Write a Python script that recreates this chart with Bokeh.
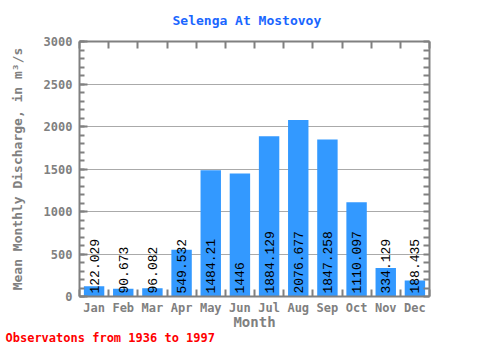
import math
from bokeh.plotting import figure
from bokeh.models import Range1d, FixedTicker, SingleIntervalTicker, LinearAxis, Title, ColumnDataSource
from bokeh.core.properties import value
from bokeh.embed import file_html
from bokeh.resources import INLINE

months = ["Jan", "Feb", "Mar", "Apr", "May", "Jun", "Jul", "Aug", "Sep", "Oct", "Nov", "Dec"]
discharge = [122.029, 90.673, 96.082, 549.532, 1484.21, 1446, 1884.129, 2076.677, 1847.258, 1110.097, 334.129, 188.435]
y_max = 3000
y_ticks_major = 500
y_ticks_minor = 100
title_text = "Selenga At Mostovoy"
note_text = "Observatons from 1936 to 1997"

xs = list(range(1, len(months) + 1))
labels = [("%f" % v).rstrip("0").rstrip(".") for v in discharge]
src = ColumnDataSource(dict(x=xs, y=discharge, lab=labels))

GRAY = "#808080"
MONO = "DejaVu Sans Mono"

p = figure(width=464, height=344, output_backend="svg", toolbar_location=None,
           x_range=Range1d(0.5, 12.5), y_range=Range1d(0, y_max),
           min_border_left=79, min_border_right=35, min_border_top=41, min_border_bottom=30)
p.outline_line_color = None
p.background_fill_color = "white"
p.border_fill_color = "white"

p.title.text = title_text
p.title.align = "left"
p.title.offset = 93
p.title.vertical_align = "top"
p.title.standoff = 24
p.title.text_font = MONO
p.title.text_font_size = "13px"
p.title.text_font_style = "bold"
p.title.text_color = "#1a66ff"

p.vbar(x="x", top="y", width=0.7, bottom=0, source=src, fill_color="#3399ff", line_color=None)
p.text(x="x", y=0, text="lab", source=src, angle=math.pi / 2, text_align="left",
       text_baseline="middle", y_offset=-3, text_font=value("Liberation Mono"),
       text_font_size="13px", text_color="black")

bound = [i + 0.5 for i in range(0, 13)]
xa = p.xaxis[0]
xa.ticker = FixedTicker(ticks=xs, minor_ticks=bound)
xa.major_label_overrides = {i: m for i, m in zip(xs, months)}
xa.major_tick_in = 0
xa.major_tick_out = 0
xa.minor_tick_in = 7
xa.minor_tick_out = 0
xa.axis_line_width = 2
xa.axis_line_color = GRAY
xa.minor_tick_line_color = GRAY
xa.minor_tick_line_width = 2
xa.major_label_text_font = MONO
xa.major_label_text_font_style = "bold"
xa.major_label_text_font_size = "12px"
xa.major_label_text_color = GRAY
xa.major_label_standoff = 4
xa.axis_label = "Month"
xa.axis_label_text_font = MONO
xa.axis_label_text_font_style = "bold"
xa.axis_label_text_font_size = "14px"
xa.axis_label_text_color = GRAY
xa.axis_label_standoff = -4

ya = p.yaxis[0]
ya.ticker = SingleIntervalTicker(interval=y_ticks_major, num_minor_ticks=5)
ya.major_tick_in = 8
ya.major_tick_out = 0
ya.minor_tick_in = 5
ya.minor_tick_out = 0
ya.axis_line_width = 2
ya.axis_line_color = GRAY
ya.major_tick_line_color = GRAY
ya.major_tick_line_width = 2
ya.minor_tick_line_color = GRAY
ya.minor_tick_line_width = 2
ya.major_label_text_font = MONO
ya.major_label_text_font_style = "bold"
ya.major_label_text_font_size = "12px"
ya.major_label_text_color = GRAY
ya.major_label_standoff = 7
ya.axis_label = "Mean Monthly Discharge, in m³/s"
ya.axis_label_text_font = MONO
ya.axis_label_text_font_style = "bold"
ya.axis_label_text_font_size = "13px"
ya.axis_label_text_color = GRAY
ya.axis_label_standoff = 16

ra = LinearAxis(ticker=FixedTicker(ticks=[], minor_ticks=list(range(0, y_max + 1, y_ticks_minor))),
                major_tick_in=0, major_tick_out=0,
                minor_tick_in=6, minor_tick_out=0, axis_line_width=2, axis_line_color=GRAY,
                minor_tick_line_color=GRAY, minor_tick_line_width=2, major_label_standoff=0)
p.add_layout(ra, "right")
ta = LinearAxis(ticker=FixedTicker(ticks=[], minor_ticks=bound),
                major_tick_in=0, major_tick_out=0,
                minor_tick_in=7, minor_tick_out=0, axis_line_width=2, axis_line_color=GRAY,
                minor_tick_line_color=GRAY, minor_tick_line_width=2, major_label_standoff=0)
p.add_layout(ta, "above")

p.xgrid.visible = False
p.ygrid.grid_line_color = "#aaaaaa"
p.ygrid.grid_line_width = 1

note = Title(text=note_text, align="left", offset=-74, standoff=-4, vertical_align="top",
             text_font=MONO, text_font_style="bold", text_font_size="12px",
             text_color="#ff0000")
p.add_layout(note, "below")

open("out.html", "w").write(file_html(p, INLINE))
